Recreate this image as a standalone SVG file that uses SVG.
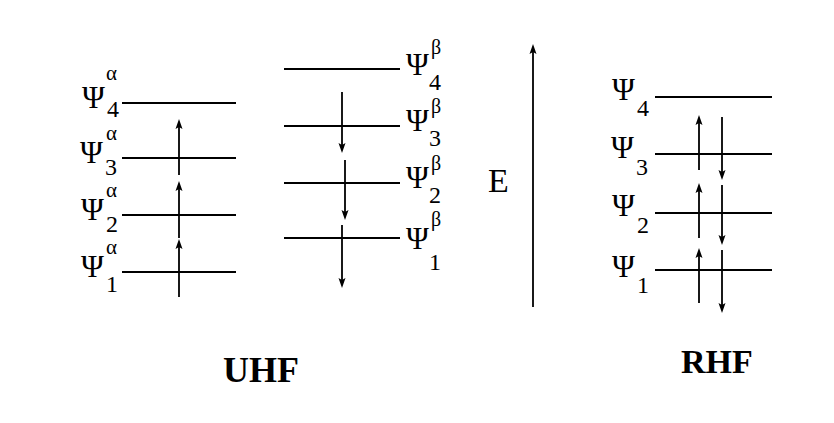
<svg xmlns="http://www.w3.org/2000/svg" width="834" height="423" viewBox="0 0 834 423">
<defs>
<style>
.lv{stroke:#000;stroke-width:2;fill:none}
.ar{stroke:#000;stroke-width:1.8;fill:none}
.hd{fill:#000;stroke:none}
</style>
</defs>
<rect width="834" height="423" fill="#fff"/>
<g id="connectors">
<path class="ar" d="M179,175 V126"/><polygon class="hd" points="179,119 182.5,129 179,127 175.5,129"/>
<path class="ar" d="M179,238 V188"/><polygon class="hd" points="179,181 182.5,191 179,189 175.5,191"/>
<path class="ar" d="M179,297 V246"/><polygon class="hd" points="179,239 182.5,249 179,247 175.5,249"/>
<path class="ar" d="M342,92 V146"/><polygon class="hd" points="342,153 345.5,143 342,145 338.5,143"/>
<path class="ar" d="M345,160 V213"/><polygon class="hd" points="345,220 348.5,210 345,212 341.5,210"/>
<path class="ar" d="M342,225 V281"/><polygon class="hd" points="342,288 345.5,278 342,280 338.5,278"/>
<path class="ar" d="M533,307 V51"/><polygon class="hd" points="533,44 536.5,54 533,52 529.5,54"/>
<path class="ar" d="M699,170 V122"/><polygon class="hd" points="699,115 702.5,125 699,123 695.5,125"/>
<path class="ar" d="M699,238 V190"/><polygon class="hd" points="699,183 702.5,193 699,191 695.5,193"/>
<path class="ar" d="M699,303 V255"/><polygon class="hd" points="699,248 702.5,258 699,256 695.5,258"/>
<path class="ar" d="M722,117 V173"/><polygon class="hd" points="722,180 725.5,170 722,172 718.5,170"/>
<path class="ar" d="M722,185 V238"/><polygon class="hd" points="722,245 725.5,235 722,237 718.5,235"/>
<path class="ar" d="M722,250 V306"/><polygon class="hd" points="722,313 725.5,303 722,305 718.5,303"/>
</g>
<g id="uhf-alpha">
<g id="a4"><line class="lv" x1="122" y1="103" x2="236" y2="103"/><text font-family="Times New Roman, serif" font-size="31" x="82" y="108">Ψ</text><text font-family="Times New Roman, serif" font-size="24" x="107" y="117">4</text><text font-family="Times New Roman, serif" font-size="21" x="106" y="80">α</text></g>
<g id="a3"><line class="lv" x1="122" y1="158" x2="236" y2="158"/><text font-family="Times New Roman, serif" font-size="31" x="80" y="163">Ψ</text><text font-family="Times New Roman, serif" font-size="24" x="105" y="175">3</text><text font-family="Times New Roman, serif" font-size="21" x="106" y="140">α</text></g>
<g id="a2"><line class="lv" x1="122" y1="215" x2="236" y2="215"/><text font-family="Times New Roman, serif" font-size="31" x="81" y="220">Ψ</text><text font-family="Times New Roman, serif" font-size="24" x="106" y="232">2</text><text font-family="Times New Roman, serif" font-size="21" x="106" y="197">α</text></g>
<g id="a1"><line class="lv" x1="122" y1="272" x2="236" y2="272"/><text font-family="Times New Roman, serif" font-size="31" x="81" y="277">Ψ</text><text font-family="Times New Roman, serif" font-size="24" x="106" y="292">1</text><text font-family="Times New Roman, serif" font-size="21" x="106" y="254">α</text></g>
</g>
<g id="uhf-beta">
<g id="b4"><line class="lv" x1="284" y1="69" x2="400" y2="69"/><text font-family="Times New Roman, serif" font-size="31" x="406" y="75">Ψ</text><text font-family="Times New Roman, serif" font-size="24" x="429" y="90">4</text><text font-family="Times New Roman, serif" font-size="20" x="431" y="54">β</text></g>
<g id="b3"><line class="lv" x1="284" y1="126" x2="400" y2="126"/><text font-family="Times New Roman, serif" font-size="31" x="406" y="131">Ψ</text><text font-family="Times New Roman, serif" font-size="24" x="429" y="146">3</text><text font-family="Times New Roman, serif" font-size="20" x="431" y="113">β</text></g>
<g id="b2"><line class="lv" x1="284" y1="183" x2="400" y2="183"/><text font-family="Times New Roman, serif" font-size="31" x="406" y="188">Ψ</text><text font-family="Times New Roman, serif" font-size="24" x="429" y="203">2</text><text font-family="Times New Roman, serif" font-size="20" x="431" y="170">β</text></g>
<g id="b1"><line class="lv" x1="284" y1="238" x2="400" y2="238"/><text font-family="Times New Roman, serif" font-size="31" x="406" y="249">Ψ</text><text font-family="Times New Roman, serif" font-size="24" x="429" y="270">1</text><text font-family="Times New Roman, serif" font-size="20" x="431" y="226">β</text></g>
</g>
<g id="energy"><text font-family="Times New Roman, serif" x="488" y="192" font-size="34">E</text></g>
<g id="rhf">
<g id="r4"><line class="lv" x1="655" y1="97" x2="772" y2="97"/><text font-family="Times New Roman, serif" font-size="31" x="612" y="100">Ψ</text><text font-family="Times New Roman, serif" font-size="24" x="637" y="116">4</text></g>
<g id="r3"><line class="lv" x1="655" y1="154" x2="772" y2="154"/><text font-family="Times New Roman, serif" font-size="31" x="611" y="158">Ψ</text><text font-family="Times New Roman, serif" font-size="24" x="636" y="175">3</text></g>
<g id="r2"><line class="lv" x1="655" y1="213" x2="772" y2="213"/><text font-family="Times New Roman, serif" font-size="31" x="612" y="216">Ψ</text><text font-family="Times New Roman, serif" font-size="24" x="637" y="233">2</text></g>
<g id="r1"><line class="lv" x1="655" y1="270" x2="772" y2="270"/><text font-family="Times New Roman, serif" font-size="31" x="612" y="277">Ψ</text><text font-family="Times New Roman, serif" font-size="24" x="637" y="293">1</text></g>
</g>
<g id="labels">
<text font-family="Times New Roman, serif" x="223" y="382" font-size="36" font-weight="bold">UHF</text>
<text font-family="Times New Roman, serif" x="681" y="373" font-size="34" font-weight="bold">RHF</text>
</g>
</svg>
